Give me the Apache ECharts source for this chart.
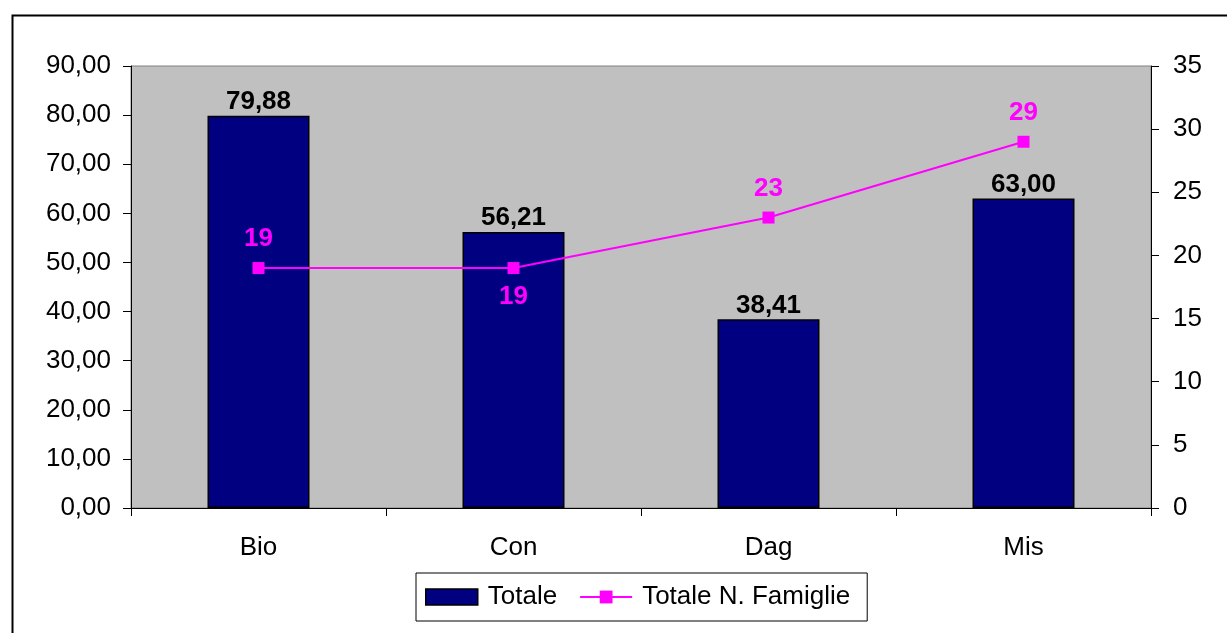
<!DOCTYPE html>
<html>
<head>
<meta charset="utf-8">
<script src="https://cdn.jsdelivr.net/npm/echarts@6/dist/echarts.min.js"></script>
<style>
  html, body { margin: 0; padding: 0; background: #ffffff; }
  #chart { width: 1227px; height: 633px; }
</style>
</head>
<body>
<div id="chart"></div>
<script>
// Categories and values
const categories = ['Bio', 'Con', 'Dag', 'Mis'];
const totale = [79.88, 56.21, 38.41, 63.00];
const famiglie = [19, 19, 23, 29];
// Label placement for the line series (above / below each point)
const famiglieLabelPos = ['top', 'bottom', 'top', 'top'];

const comma = v => v.toFixed(2).replace('.', ',');
const FONT = 'Liberation Sans, Arial, sans-serif';
const FS = 26;

const chart = echarts.init(document.getElementById('chart'), null, { renderer: 'canvas' });

chart.setOption({
  animation: false,
  backgroundColor: '#ffffff',
  textStyle: { fontFamily: FONT },
  graphic: [{
    type: 'rect',
    left: 10, top: 13,
    shape: { width: 1400, height: 800 },
    style: { fill: null, stroke: '#000000', lineWidth: 2 },
    z: -10
  }],
  grid: {
    left: 131, right: 76, top: 66, bottom: 125,
    show: true,
    backgroundColor: '#c0c0c0',
    borderColor: '#808080',
    borderWidth: 1
  },
  legend: {
    left: 416, top: 573,
    itemGap: 22,
    itemWidth: 52, itemHeight: 16,
    padding: [10, 17, 10, 9],
    borderColor: '#000000', borderWidth: 1,
    textStyle: { fontFamily: FONT, fontSize: FS, lineHeight: 28, color: '#000000', padding: [0, 0, 0, 5] },
    data: [
      { name: 'Totale', icon: 'rect', itemStyle: { borderColor: '#000', borderWidth: 1.5 } },
      { name: 'Totale N. Famiglie' }
    ]
  },
  xAxis: {
    type: 'category',
    data: categories,
    boundaryGap: true,
    axisLine: { show: true, lineStyle: { color: '#000000', width: 1 } },
    axisTick: { show: true, length: 8, alignWithLabel: false, lineStyle: { color: '#000' } },
    axisLabel: { fontFamily: FONT, fontSize: FS, color: '#000', margin: 27 }
  },
  yAxis: [{
    type: 'value',
    min: 0, max: 90, interval: 10,
    axisLine: { show: true, lineStyle: { color: '#000', width: 1 } },
    axisTick: { show: true, length: 8, lineStyle: { color: '#000' } },
    splitLine: { show: false },
    axisLabel: { fontFamily: FONT, fontSize: FS, color: '#000', margin: 20, formatter: v => comma(v) }
  }, {
    type: 'value',
    min: 0, max: 35, interval: 5,
    position: 'right',
    axisLine: { show: true, lineStyle: { color: '#000', width: 1 } },
    axisTick: { show: true, length: 8, lineStyle: { color: '#000' } },
    splitLine: { show: false },
    axisLabel: { fontFamily: FONT, fontSize: FS, color: '#000', margin: 22 }
  }],
  series: [{
    name: 'Totale',
    type: 'bar',
    yAxisIndex: 0,
    data: totale,
    barWidth: '40%',
    itemStyle: { color: '#000080', borderColor: '#000000', borderWidth: 1.5 },
    label: {
      show: true, position: 'top', distance: 1,
      fontFamily: FONT, fontSize: FS, fontWeight: 'bold', color: '#000',
      formatter: p => comma(p.value)
    }
  }, {
    name: 'Totale N. Famiglie',
    type: 'line',
    yAxisIndex: 1,
    data: famiglie.map((v, i) => ({
      value: v,
      label: { position: famiglieLabelPos[i] }
    })),
    symbol: 'rect',
    symbolSize: 12,
    lineStyle: { color: '#ff00ff', width: 2 },
    itemStyle: { color: '#ff00ff' },
    label: {
      show: true, distance: 10,
      fontFamily: FONT, fontSize: FS, fontWeight: 'bold', color: '#ff00ff'
    },
    z: 5
  }]
});
</script>
</body>
</html>
